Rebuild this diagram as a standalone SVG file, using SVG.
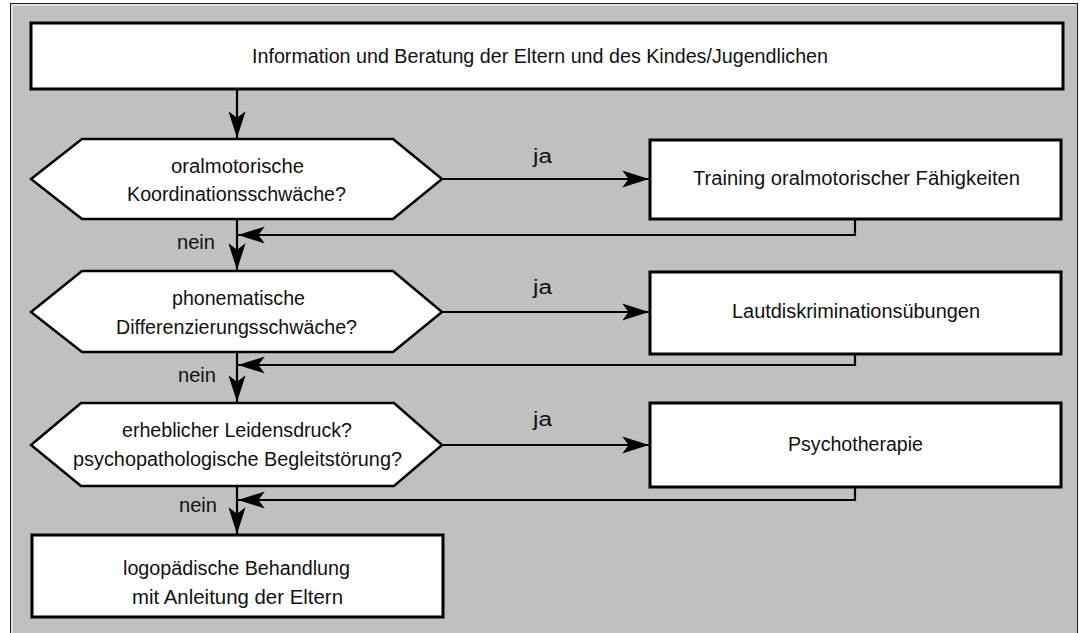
<svg xmlns="http://www.w3.org/2000/svg" width="1081" height="633" viewBox="0 0 1081 633">
  <style>
    .box { fill: #ffffff; stroke: #000000; stroke-width: 3; }
    .hex { fill: #ffffff; stroke: #000000; stroke-width: 2.5; stroke-linejoin: miter; }
    .con { fill: none; stroke: #000000; stroke-width: 2.2; }
    .t { font-family: "Liberation Sans Narrow", "Liberation Sans", Arial, sans-serif; font-size: 19.5px; fill: #111111; text-anchor: start; }
  </style>
  <defs>
    <marker id="arr" markerUnits="userSpaceOnUse" markerWidth="30" markerHeight="20" viewBox="-26 -9 28 18" refX="0" refY="0" orient="auto">
      <path d="M0,0 L-25,-8 L-19,0 L-25,8 Z" fill="#000000"/>
    </marker>
  </defs>
  <rect x="0" y="0" width="1081" height="633" fill="#ffffff"/>
  <rect id="frame" x="10.5" y="3.5" width="1067" height="640" fill="#c0c0c0" stroke="#222222" stroke-width="1"/>
  <path d="M12,644 V5 H1076" fill="none" stroke="#ffffff" stroke-width="1"/>

  <g id="connectors">
    <path class="con" d="M237,89 V138" marker-end="url(#arr)"/>
    <path class="con" d="M442,179 H649" marker-end="url(#arr)"/>
    <path class="con" d="M855,219 V235 H238" marker-end="url(#arr)"/>
    <path class="con" d="M237,219 V270" marker-end="url(#arr)"/>
    <path class="con" d="M442,312 H649" marker-end="url(#arr)"/>
    <path class="con" d="M855,354 V365 H238" marker-end="url(#arr)"/>
    <path class="con" d="M237,352 V402" marker-end="url(#arr)"/>
    <path class="con" d="M442,445 H649" marker-end="url(#arr)"/>
    <path class="con" d="M855,487 V500 H238" marker-end="url(#arr)"/>
    <path class="con" d="M237,486 V534" marker-end="url(#arr)"/>
    <text class="t" x="533" y="163" textLength="19" lengthAdjust="spacingAndGlyphs">ja</text>
    <text class="t" x="533" y="294" textLength="19" lengthAdjust="spacingAndGlyphs">ja</text>
    <text class="t" x="533" y="426" textLength="19" lengthAdjust="spacingAndGlyphs">ja</text>
    <text class="t" x="177" y="249" textLength="38" lengthAdjust="spacingAndGlyphs">nein</text>
    <text class="t" x="178" y="382" textLength="38" lengthAdjust="spacingAndGlyphs">nein</text>
    <text class="t" x="179" y="512" textLength="38" lengthAdjust="spacingAndGlyphs">nein</text>
  </g>

  <g id="n_info">
    <rect class="box" x="31" y="23" width="1032" height="66"/>
    <text class="t" x="252" y="63" textLength="576" lengthAdjust="spacingAndGlyphs">Information und Beratung der Eltern und des Kindes/Jugendlichen</text>
  </g>

  <g id="n_q1">
    <polygon class="hex" points="31,179 82,139 393,139 442,179 393,219 82,219"/>
    <text class="t" x="171" y="173" textLength="133" lengthAdjust="spacingAndGlyphs">oralmotorische</text>
    <text class="t" x="127" y="201" textLength="219" lengthAdjust="spacingAndGlyphs">Koordinationsschwäche?</text>
  </g>

  <g id="n_training">
    <rect class="box" x="650" y="140" width="411" height="79"/>
    <text class="t" x="693" y="185" textLength="327" lengthAdjust="spacingAndGlyphs">Training oralmotorischer Fähigkeiten</text>
  </g>

  <g id="n_q2">
    <polygon class="hex" points="31,312 82,271 393,271 442,312 393,352 82,352"/>
    <text class="t" x="172" y="305" textLength="133" lengthAdjust="spacingAndGlyphs">phonematische</text>
    <text class="t" x="116" y="334" textLength="241" lengthAdjust="spacingAndGlyphs">Differenzierungsschwäche?</text>
  </g>

  <g id="n_laut">
    <rect class="box" x="650" y="272" width="411" height="82"/>
    <text class="t" x="732" y="318" textLength="248" lengthAdjust="spacingAndGlyphs">Lautdiskriminationsübungen</text>
  </g>

  <g id="n_q3">
    <polygon class="hex" points="31,445 81,403 394,403 442,445 394,486 81,486"/>
    <text class="t" x="122" y="437" textLength="230" lengthAdjust="spacingAndGlyphs">erheblicher Leidensdruck?</text>
    <text class="t" x="73" y="466" textLength="329" lengthAdjust="spacingAndGlyphs">psychopathologische Begleitstörung?</text>
  </g>

  <g id="n_psycho">
    <rect class="box" x="650" y="403" width="411" height="84"/>
    <text class="t" x="788" y="451" textLength="135" lengthAdjust="spacingAndGlyphs">Psychotherapie</text>
  </g>

  <g id="n_logo">
    <rect class="box" x="32" y="535" width="411" height="82"/>
    <text class="t" x="123" y="575" textLength="227" lengthAdjust="spacingAndGlyphs">logopädische Behandlung</text>
    <text class="t" x="132" y="604" textLength="211" lengthAdjust="spacingAndGlyphs">mit Anleitung der Eltern</text>
  </g>
</svg>
